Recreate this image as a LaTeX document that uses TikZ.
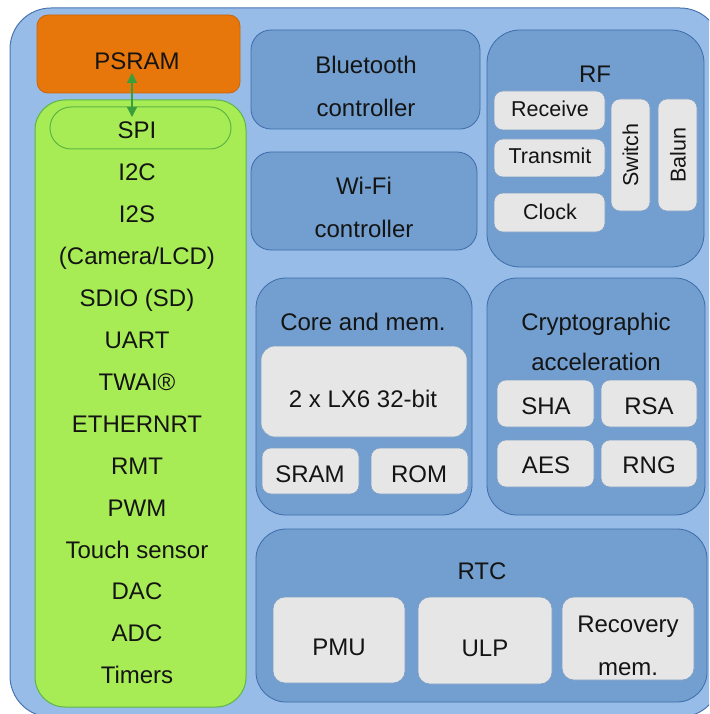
\documentclass[tikz,border=0pt]{standalone}
\usepackage{fontspec}
\setmainfont{Liberation Sans}
\usetikzlibrary{arrows.meta}
\definecolor{outerblue}{HTML}{97BCE8}
\definecolor{outerline}{HTML}{4A74B0}
\definecolor{medblue}{HTML}{729FCF}
\definecolor{medline}{HTML}{3D6CAA}
\definecolor{grayfill}{HTML}{E6E6E6}
\definecolor{grayline}{HTML}{7E9DC4}
\definecolor{limefill}{HTML}{A8EC55}
\definecolor{limeline}{HTML}{5CB646}
\definecolor{orangefill}{HTML}{E8770B}
\definecolor{orangeline}{HTML}{C8650A}
\definecolor{arrowgreen}{HTML}{3A9F3A}
\definecolor{ink}{HTML}{141414}
\newcommand{\blk}[7]{%
  \pgfmathsetmacro{\blkcx}{(#3+#5)/2}%
  \pgfmathsetmacro{\blkcy}{(#4+#6)/2}%
  \pgfmathsetmacro{\blkw}{#5-#3}%
  \pgfmathsetmacro{\blkh}{#6-#4}%
  \node[#1, minimum width=\blkw pt, minimum height=\blkh pt] (#2) at (\blkcx,\blkcy) {#7};}
\begin{document}
\begin{tikzpicture}[x=1pt,y=-1pt,
  every node/.style={inner sep=0pt, outer sep=0pt},
  outerbox/.style={draw=outerline, fill=outerblue, line width=1pt, rounded corners=41pt},
  medbox/.style={draw=medline, fill=medblue, line width=0.8pt, rounded corners=20pt},
  graybox/.style={draw=grayline, fill=grayfill, line width=0.6pt, rounded corners=9pt},
  limebox/.style={draw=limeline, fill=limefill, line width=1pt, rounded corners=30pt},
  orangebox/.style={draw=orangeline, fill=orangefill, line width=0.8pt, rounded corners=11pt},
  txt/.style={anchor=base, text=ink, font=\fontsize{24}{28}\selectfont},
  smalltxt/.style={anchor=base, text=ink, font=\fontsize{21.5}{25}\selectfont},
  rottxt/.style={text=ink, font=\fontsize{21.5}{25}\selectfont, rotate=90},
  biarrow/.style={draw=arrowgreen, line width=1.2pt, {Triangle[length=10pt,width=10pt]}-{Triangle[length=10pt,width=10pt]}}
]
\useasboundingbox (0,0) rectangle (709,714);
\begin{scope}
\clip (0,0) rectangle (709,714);
\blk{outerbox}{outer}{10}{8}{721}{717}{}
\end{scope}

% PSRAM and peripherals
\blk{orangebox}{psram}{37}{15}{240}{93}{}
\blk{limebox}{periph}{35}{100}{246}{707}{}
\blk{limebox, rounded corners=21pt}{spi}{50}{107}{231}{149}{}
\node[txt] (tpsram) at (137,70) {PSRAM};
\node[txt] (p1) at (137,139.0) {SPI};
\node[txt] (p2) at (137,180.9) {I2C};
\node[txt] (p3) at (137,222.8) {I2S};
\node[txt] (p4) at (137,264.7) {(Camera/LCD)};
\node[txt] (p5) at (137,306.6) {SDIO (SD)};
\node[txt] (p6) at (137,348.5) {UART};
\node[txt] (p7) at (137,390.4) {TWAI®};
\node[txt] (p8) at (137,432.3) {ETHERNRT};
\node[txt] (p9) at (137,474.2) {RMT};
\node[txt] (p10) at (137,516.1) {PWM};
\node[txt] (p11) at (137,558.0) {Touch sensor};
\node[txt] (p12) at (137,599.9) {DAC};
\node[txt] (p13) at (137,641.8) {ADC};
\node[txt] (p14) at (137,683.7) {Timers};
\coordinate (atop) at (132,73);
\coordinate (abot) at (132,117);
\draw[biarrow] (atop) -- (abot);

% Bluetooth / Wi-Fi
\blk{medbox}{bt}{251}{30}{480}{129}{}
\node[txt] (bt1) at (366,74) {Bluetooth};
\node[txt] (bt2) at (366,117) {controller};
\blk{medbox}{wifi}{251}{152}{477}{250}{}
\node[txt] (wf1) at (364,194) {Wi-Fi};
\node[txt] (wf2) at (364,237) {controller};

% RF
\blk{medbox, rounded corners=33pt}{rf}{487}{30}{704}{267}{}
\node[txt] (trf) at (595,83) {RF};
\blk{graybox}{rx}{494}{91}{605}{130}{}
\node[smalltxt] (trx) at (550,117) {Receive};
\blk{graybox}{tx}{494}{139}{605}{177}{}
\node[smalltxt] (ttx) at (550,164) {Transmit};
\blk{graybox}{clk}{494}{193}{605}{232}{}
\node[smalltxt] (tclk) at (550,219) {Clock};
\blk{graybox}{sw}{611}{99}{650}{211}{}
\node[rottxt] (tsw) at (630.5,155) {Switch};
\blk{graybox}{bal}{658}{99}{697}{211}{}
\node[rottxt] (tbal) at (678,155) {Balun};

% Core and memory
\blk{medbox, rounded corners=30pt}{core}{256}{278}{472}{515}{}
\node[txt] (tcore) at (363,330) {Core and mem.};
\blk{graybox, rounded corners=14pt}{lx6}{261}{346}{467}{437}{}
\node[txt] (tlx6) at (363,407) {2 x LX6 32-bit};
\blk{graybox}{sram}{262}{448}{359}{494}{}
\node[txt] (tsram) at (310,482) {SRAM};
\blk{graybox}{rom}{371}{448}{468}{494}{}
\node[txt] (trom) at (419,482) {ROM};

% Cryptographic acceleration
\blk{medbox, rounded corners=30pt}{crypto}{487}{278}{705}{515}{}
\node[txt] (tcr1) at (596,330) {Cryptographic};
\node[txt] (tcr2) at (596,370) {acceleration};
\blk{graybox}{sha}{497}{380}{594}{427}{}
\node[txt] (tsha) at (546,414) {SHA};
\blk{graybox}{rsa}{601}{380}{697}{427}{}
\node[txt] (trsa) at (649,414) {RSA};
\blk{graybox}{aes}{497}{440}{594}{487}{}
\node[txt] (taes) at (546,473) {AES};
\blk{graybox}{rng}{601}{440}{697}{487}{}
\node[txt] (trng) at (649,473) {RNG};

% RTC
\blk{medbox, rounded corners=30pt}{rtc}{256}{529}{707}{702}{}
\node[txt] (trtc) at (482,579) {RTC};
\blk{graybox, rounded corners=12pt}{pmu}{273}{597}{405}{683}{}
\node[txt] (tpmu) at (339,655) {PMU};
\blk{graybox, rounded corners=12pt}{ulp}{418}{597}{552}{684}{}
\node[txt] (tulp) at (485,656) {ULP};
\blk{graybox, rounded corners=12pt}{rec}{562}{597}{694}{680}{}
\node[txt] (trec1) at (628,632) {Recovery};
\node[txt] (trec2) at (628,675) {mem.};
\end{tikzpicture}
\end{document}
